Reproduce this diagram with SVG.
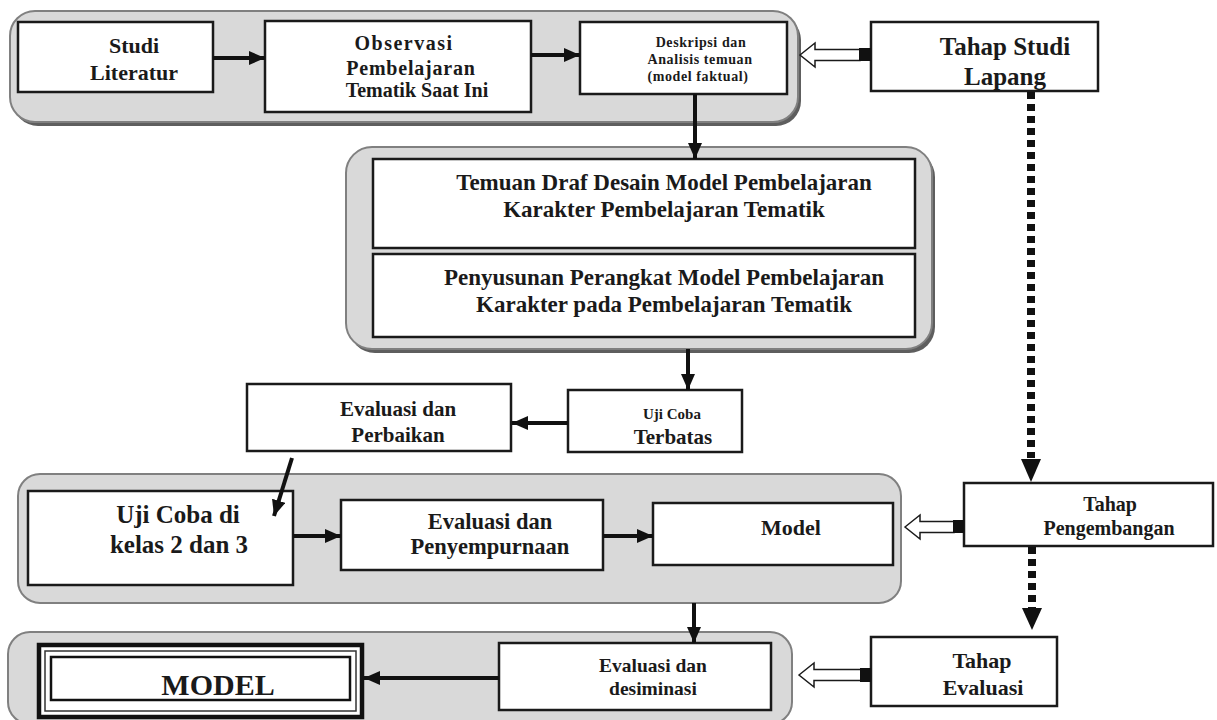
<svg xmlns="http://www.w3.org/2000/svg" width="1217" height="720" viewBox="0 0 1217 720">
<defs>
<style>
.cont{fill:#d9d9d9;stroke:#808080;stroke-width:2}
.shadow{fill:#5e5e5e}
.box{fill:#ffffff;stroke:#1a1a1a;stroke-width:2.5}
.t{font-weight:bold;fill:#1a1a1a;text-anchor:middle}
.arr{stroke:#111;stroke-width:4;fill:none;marker-end:url(#ah)}
.dot{stroke:#111;stroke-width:8;stroke-dasharray:7 5;fill:none}
.hol{fill:#ffffff;stroke:#1a1a1a;stroke-width:1.5}
.sq{fill:#111}
.tri{fill:#111}
</style>
<marker id="ah" markerUnits="userSpaceOnUse" markerWidth="18" markerHeight="16" refX="16" refY="7" orient="auto">
<path d="M0,0 L16,7 L0,14 z" fill="#111"/>
</marker>
</defs>
<rect width="1217" height="720" fill="#ffffff"/>

<g id="container1">
<rect class="shadow" x="13" y="15" width="788" height="111" rx="25"/>
<rect class="cont" x="10" y="11" width="788" height="111" rx="25"/>
</g>
<g id="container2">
<rect class="shadow" x="349" y="151" width="586" height="202" rx="26"/>
<rect class="cont" x="346" y="147" width="586" height="202" rx="26"/>
</g>
<g id="container3">
<rect class="cont" x="18" y="474" width="883" height="129" rx="22"/>
</g>
<g id="container4">
<rect class="cont" x="8" y="632" width="784" height="92" rx="22"/>
</g>

<g font-family="'Liberation Serif', 'Times New Roman', 'DejaVu Serif', serif">
<g id="studi-literatur">
<rect class="box" x="18" y="22" width="195" height="70"/>
<text class="t" font-size="22" x="134" y="53">Studi</text>
<text class="t" font-size="22" x="134" y="80">Literatur</text>
</g>
<g id="observasi">
<rect class="box" x="265" y="21" width="266" height="91"/>
<text class="t" font-size="20" x="404" y="50" letter-spacing="1.5">Observasi</text>
<text class="t" font-size="20" x="411" y="75" letter-spacing="0.8">Pembelajaran</text>
<text class="t" font-size="20" x="417" y="97">Tematik Saat Ini</text>
</g>
<g id="deskripsi">
<rect class="box" x="580" y="22" width="207" height="72"/>
<text class="t" font-size="14" x="701" y="47" letter-spacing="0.6">Deskripsi dan</text>
<text class="t" font-size="14" x="700" y="64" letter-spacing="0.6">Analisis temuan</text>
<text class="t" font-size="14" x="698" y="81" letter-spacing="0.6">(model faktual)</text>
</g>
<g id="tahap-studi-lapang">
<rect class="box" x="871" y="22" width="227" height="69"/>
<text class="t" font-size="25" x="1005" y="55">Tahap Studi</text>
<text class="t" font-size="25" x="1005" y="85">Lapang</text>
</g>
<g id="temuan">
<rect class="box" x="373" y="159" width="542" height="89"/>
<text class="t" font-size="23" x="664" y="190">Temuan Draf Desain Model Pembelajaran</text>
<text class="t" font-size="23" x="664" y="217">Karakter Pembelajaran Tematik</text>
</g>
<g id="penyusunan">
<rect class="box" x="373" y="254" width="542" height="83"/>
<text class="t" font-size="23" x="664" y="285">Penyusunan Perangkat Model Pembelajaran</text>
<text class="t" font-size="23" x="664" y="312">Karakter pada Pembelajaran Tematik</text>
</g>
<g id="evaluasi-perbaikan">
<rect class="box" x="247" y="384" width="264" height="67"/>
<text class="t" font-size="21" x="398" y="416">Evaluasi dan</text>
<text class="t" font-size="21" x="398" y="442">Perbaikan</text>
</g>
<g id="uji-coba-terbatas">
<rect class="box" x="568" y="390" width="174" height="62"/>
<text class="t" font-size="15" x="672" y="419">Uji Coba</text>
<text class="t" font-size="21" x="673" y="444">Terbatas</text>
</g>
<g id="uji-coba-kelas">
<rect class="box" x="28" y="491" width="265" height="94"/>
<text class="t" font-size="25" x="178" y="523">Uji Coba di</text>
<text class="t" font-size="25" x="179" y="553">kelas 2 dan 3</text>
</g>
<g id="evaluasi-penyempurnaan">
<rect class="box" x="341" y="500" width="262" height="70"/>
<text class="t" font-size="22.5" x="490" y="529">Evaluasi dan</text>
<text class="t" font-size="22.5" x="490" y="554">Penyempurnaan</text>
</g>
<g id="model">
<rect class="box" x="653" y="503" width="240" height="62"/>
<text class="t" font-size="22" x="791" y="535">Model</text>
</g>
<g id="tahap-pengembangan">
<rect class="box" x="964" y="483" width="249" height="63"/>
<text class="t" font-size="20" x="1110" y="511">Tahap</text>
<text class="t" font-size="20" x="1109" y="535">Pengembangan</text>
</g>
<g id="tahap-evaluasi">
<rect class="box" x="871" y="637" width="186" height="69"/>
<text class="t" font-size="22" x="982" y="668">Tahap</text>
<text class="t" font-size="22" x="983" y="695">Evaluasi</text>
</g>
<g id="evaluasi-desiminasi">
<rect class="box" x="499" y="643" width="272" height="67"/>
<text class="t" font-size="19.5" x="653" y="672">Evaluasi dan</text>
<text class="t" font-size="19.5" x="653" y="695">desiminasi</text>
</g>
<g id="model-final">
<rect x="39" y="645" width="323" height="72" fill="#ffffff" stroke="#111" stroke-width="4.5"/>
<rect x="45" y="651" width="311" height="60" fill="none" stroke="#333" stroke-width="1.5"/>
<rect x="51" y="657" width="299" height="43" fill="none" stroke="#111" stroke-width="2.5"/>
<text class="t" font-size="30" x="218" y="695">MODEL</text>
</g>
</g>

<g id="connectors">
<line class="arr" x1="213" y1="58" x2="265" y2="58"/>
<line class="arr" x1="531" y1="55" x2="580" y2="55"/>
<line class="arr" x1="695" y1="94" x2="695" y2="159" stroke-width="5"/>
<line class="arr" x1="688" y1="349" x2="688" y2="390"/>
<line class="arr" x1="568" y1="423" x2="512" y2="423"/>
<line class="arr" x1="292" y1="458" x2="274" y2="516"/>
<line class="arr" x1="293" y1="536" x2="341" y2="536"/>
<line class="arr" x1="603" y1="536" x2="653" y2="536"/>
<line class="arr" x1="694" y1="603" x2="694" y2="643"/>
<line class="arr" x1="499" y1="678" x2="364" y2="678"/>

<line class="dot" x1="1031" y1="92" x2="1031" y2="458"/>
<polygon class="tri" points="1021,459 1041,459 1031,482"/>
<line class="dot" x1="1032" y1="547" x2="1032" y2="608"/>
<polygon class="tri" points="1022,608 1042,608 1032,630"/>

<polygon class="hol" points="800,55 815,43 815,49.5 860,49.5 860,60.5 815,60.5 815,67"/>
<rect class="sq" x="859" y="48" width="12" height="13"/>
<polygon class="hol" points="905,527 920,515 920,521.5 954,521.5 954,532.5 920,532.5 920,539"/>
<rect class="sq" x="953" y="520" width="11" height="13"/>
<polygon class="hol" points="799,675 814,663 814,669.5 861,669.5 861,680.5 814,680.5 814,687"/>
<rect class="sq" x="860" y="668" width="11" height="14"/>
</g>
</svg>
